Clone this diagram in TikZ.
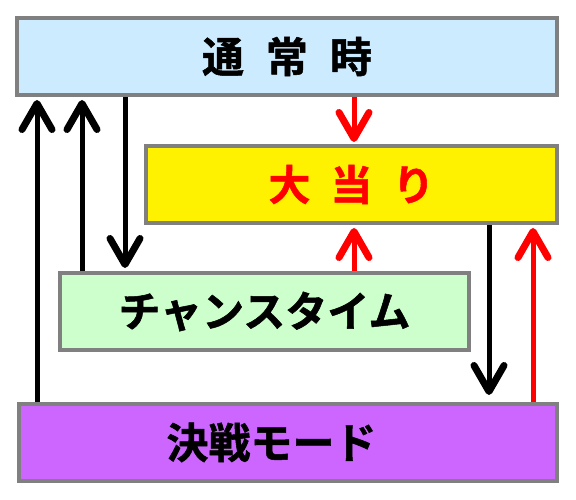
\documentclass[tikz,border=0pt]{standalone}
\usepackage{fontspec}
\newfontfamily\jpfont{Noto Sans CJK JP}[BoldFont={* Bold},BoldFeatures={FakeBold=1.2}]
\usetikzlibrary{arrows.meta}
\definecolor{boxgray}{HTML}{808080}
\definecolor{cblue}{HTML}{CCEBFF}
\definecolor{cgreen}{HTML}{CCFFCC}
\definecolor{cpurple}{HTML}{CC66FF}
\begin{document}
\begin{tikzpicture}[x=1pt,y=-1pt,
  box/.style={draw=boxgray,line width=4pt,minimum height=77pt,inner sep=0pt,
    font=\jpfont\bfseries\fontsize{42pt}{42pt}\selectfont},
  arr/.style={line width=5pt,-{Straight Barb[length=26pt,width=30pt,line width=7pt,round]}},
  blk/.style={arr,draw=black},
  rd/.style={arr,draw=red}]
\useasboundingbox (0,0) rectangle (576,500);
\node[box,fill=cblue,minimum width=540pt] (normal) at (287,56.5) {通\hspace{22pt}常\hspace{22pt}時};
\node[box,fill=yellow,minimum width=411pt,text=red] (jackpot) at (351.5,184.5) {大\hspace{20pt}当\hspace{20pt}り};
\node[box,fill=cgreen,minimum width=409pt] (chance) at (264.5,311.5) {チャンスタイム};
\node[box,fill=cpurple,minimum width=538pt] (battle) at (288,442.5) {決戦モード\kern33pt};
\coordinate (xa) at (37,0);
\coordinate (xb) at (82,0);
\coordinate (xc) at (125,0);
\coordinate (xd) at (354,0);
\coordinate (xe) at (489,0);
\coordinate (xf) at (533,0);
\draw[blk,shorten >=3pt] (battle.north -| xa) -- (normal.south -| xa);
\draw[blk,shorten >=3pt] (chance.north -| xb) -- (normal.south -| xb);
\draw[blk,shorten >=3pt] (normal.south -| xc) -- (chance.north -| xc);
\draw[rd,shorten >=2pt] (normal.south -| xd) -- (jackpot.north -| xd);
\draw[rd,shorten >=3pt] (chance.north -| xd) -- (jackpot.south -| xd);
\draw[blk,shorten >=7pt] (jackpot.south -| xe) -- (battle.north -| xe);
\draw[rd,shorten >=3pt] (battle.north -| xf) -- (jackpot.south -| xf);
\end{tikzpicture}
\end{document}
